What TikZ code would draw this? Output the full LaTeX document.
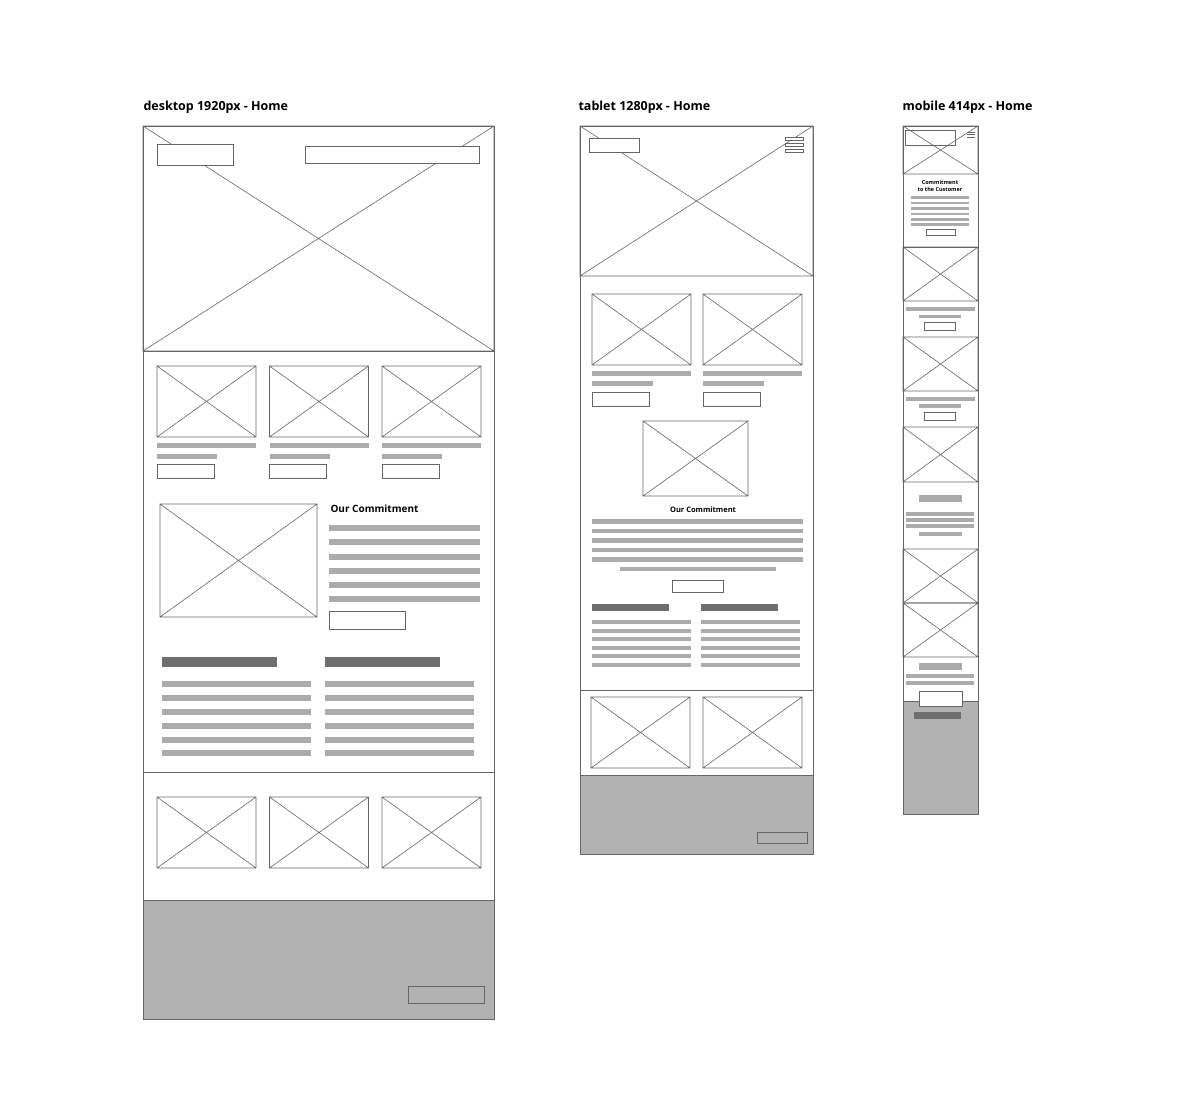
\documentclass[tikz,border=0pt]{standalone}
\usepackage{fontspec}
\setmainfont{Open Sans}
\begin{document}
\begin{tikzpicture}[x=1pt,y=-1pt,
  fr/.style={draw=black!60,line width=0.7pt},
  bx/.style={draw=black!60,line width=0.6pt},
  lb/.style={fill=black!33},
  db/.style={fill=black!57},
  ft/.style={fill=black!30,draw=black!60,line width=0.6pt},
  ttl/.style={anchor=west,font=\bfseries\fontsize{12.5}{14}\selectfont},
]
\newcommand{\xb}[4]{\draw[bx] (#1,#2) rectangle (#3,#4) (#1,#2)--(#3,#4) (#1,#4)--(#3,#2);}
\newcommand{\gbar}[5][lb]{\fill[#1] (#2,#3) rectangle (#4,#5);}
\useasboundingbox (0,0) rectangle (1200,1095);
\fill[white] (0,0) rectangle (1200,1095);
% titles
\node[ttl] (t1) at (140,107) {desktop 1920px - Home};
\node[ttl] (t2) at (575,107) {tablet 1280px - Home};
\node[ttl] (t3) at (899,107) {mobile 414px - Home};
% ===== desktop
\draw[ft] (143,900) rectangle (494,1019);
\draw[fr] (143,126) rectangle (494,1019);
\xb{143}{126}{494}{351}
\draw[bx,fill=white] (157,144) rectangle (233,165);
\draw[bx,fill=white] (305,146) rectangle (479,163);
\draw[fr] (143,351)--(494,351) (143,772)--(494,772);
\foreach \a in {157,269.5,382}{
  \xb{\a}{366}{\a+99}{437}
  \gbar{\a}{443}{\a+99}{448}
  \gbar{\a}{454}{\a+60}{459}
  \draw[bx] (\a,464) rectangle (\a+57,478);
  \xb{\a}{797}{\a+99}{868}
}
\xb{160}{504}{317}{617}
\node[anchor=west,font=\bfseries\fontsize{10}{12}\selectfont] (oc1) at (327,509) {Our Commitment};
\foreach \y in {525,539,554,568,582,596}{\gbar{329}{\y}{480}{\y+5.5}}
\draw[bx] (329,611) rectangle (405,629);
\gbar[db]{162}{657}{277}{667}
\gbar[db]{325}{657}{440}{667}
\foreach \y in {681,695,709,723,737,750}{\gbar{162}{\y}{311}{\y+5.5}\gbar{325}{\y}{474}{\y+5.5}}
\draw[bx] (408,986) rectangle (484,1003);
% ===== tablet
\draw[ft] (580,775) rectangle (813,854);
\draw[fr] (580,126) rectangle (813,854);
\xb{580}{126}{813}{276}
\draw[bx,fill=white] (589,138) rectangle (639,152);
\foreach \y in {139,145,151}{\draw[bx,fill=white] (785,\y-1.5) rectangle (803,\y+1.5);}
\draw[fr] (580,690)--(813,690);
\foreach \a in {592,703}{
  \xb{\a}{294}{\a+99}{365}
  \gbar{\a}{371}{\a+99}{376}
  \gbar{\a}{381}{\a+61}{386}
  \draw[bx] (\a,392) rectangle (\a+57,406);
}
\xb{591}{697}{690}{768}
\xb{703}{697}{802}{768}
\xb{643}{421}{748}{496}
\node[font=\bfseries\fontsize{7.5}{9}\selectfont] (oc2) at (703,510) {Our Commitment};
\foreach \y in {519,528.5,538,547.5,557}{\gbar{592}{\y}{803}{\y+4.5}}
\gbar{620}{567}{776}{571}
\draw[bx] (672,580) rectangle (723,592);
\gbar[db]{592}{604}{669}{611}
\gbar[db]{701}{604}{778}{611}
\foreach \y in {620,628.5,637,645.5,654,663}{\gbar{592}{\y}{691}{\y+4}\gbar{701}{\y}{800}{\y+4}}
\draw[bx] (757,832) rectangle (807,843);
% ===== mobile
\draw[ft] (903,701) rectangle (978,814);
\draw[fr] (903,126) rectangle (978,814);
\xb{903}{126}{978}{174}
\draw[bx] (905,130) rectangle (955,145);
\foreach \y in {132,134.5,137}{\draw[black!60,line width=0.8pt] (967,\y)--(975,\y);}
\node[align=center,font=\bfseries\fontsize{5.5}{6.5}\selectfont] (oc3) at (940,186) {Commitment\\to the Customer};
\foreach \y in {196,201.5,207,212.5,218,223}{\gbar{911}{\y}{969}{\y+2.5}}
\draw[bx] (926,229) rectangle (955,235.5);
\draw[fr] (903,247)--(978,247);
\xb{903}{247}{978}{301}
\gbar{906}{307}{975}{311}
\gbar{919}{314.5}{961}{318}
\draw[bx] (924,322) rectangle (955,330);
\xb{903}{337}{978}{391}
\gbar{906}{397}{975}{401}
\gbar{919}{404}{961}{408}
\draw[bx] (924,412) rectangle (955,420);
\xb{903}{427}{978}{482}
\gbar{919}{495}{962}{502}
\foreach \y in {512,518,524}{\gbar{906}{\y}{974}{\y+4}}
\gbar{919}{532}{962}{536}
\xb{903}{549}{978}{603}
\xb{903}{603}{978}{657}
\gbar{919}{663}{962}{670}
\gbar{906}{674}{974}{678}
\gbar{906}{681}{974}{685}
\draw[bx,fill=white] (919,691) rectangle (962,706);
\gbar[db]{914}{712}{961}{719}
\end{tikzpicture}
\end{document}
